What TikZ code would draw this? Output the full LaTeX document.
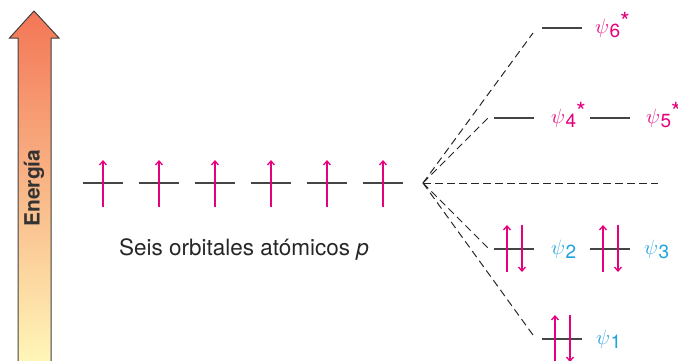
\documentclass[tikz,border=0pt]{standalone}
\usepackage{amsmath}
\usepackage{fontspec}
\setmainfont{TeX Gyre Heros}
\usetikzlibrary{arrows.meta, calc}
\definecolor{rosa}{HTML}{E5007D}
\definecolor{celeste}{HTML}{1FA3DD}
\definecolor{nivelgris}{HTML}{454545}
\definecolor{flechaalta}{RGB}{243,118,86}
\definecolor{flechabaja}{RGB}{255,246,184}
% etiqueta de orbital: psi, subindice y asterisco opcional
\newcommand{\orbital}[2]{{\fontsize{22}{22}\selectfont$\psi$}\kern0.5pt\raisebox{-4pt}{\fontsize{19}{19}\selectfont #1}\raisebox{3pt}{\fontsize{25}{25}\selectfont #2}}

\begin{document}
\begin{tikzpicture}[x=1pt, y=-1pt,
  every node/.style={font=\fontsize{22.5}{26}\selectfont},
  nivel/.style={draw=nivelgris, line width=1.3pt},
  guion/.style={draw=black!85, line width=1pt, dash pattern=on 7.5pt off 4.5pt},
  espin/.style={draw=rosa, line width=1.3pt, -{Straight Barb[length=4pt, width=7pt]}},
  etq/.style={anchor=base west, inner sep=0pt}]
\useasboundingbox (0,0) rectangle (678,360);

% flecha de energia
\shade[top color=flechaalta, bottom color=flechabaja]
  (18,361) -- (18,38) -- (9.5,38) -- (34,11) -- (59,38) -- (51,38) -- (51,361) -- cycle;
\draw[draw=black!75, line width=1pt]
  (18,361) -- (18,38) -- (9.5,38) -- (34,11) -- (59,38) -- (51,38) -- (51,361);
\node[rotate=90, font=\fontsize{21}{22}\selectfont\bfseries, text=black!80] (energia) at (34,188) {Energ\'ia};

% seis orbitales p
\foreach \x [count=\i] in {103,159,215,271,327,383} {
  \coordinate (p\i) at (\x,183);
  \draw[nivel] ($(p\i)+(-20,0)$) -- ($(p\i)+(20,0)$);
  \draw[espin] ($(p\i)+(0,24)$) -- ($(p\i)+(0,-23)$);
}
\node[anchor=base, text=black!85] (texto) at (244,255) {Seis orbitales at\'omicos \textit{p}};

% orbitales moleculares
\coordinate (centro) at (423,183);
\coordinate (a6) at (533,33);
\coordinate (a45) at (488,118);
\coordinate (a23) at (488,248);
\coordinate (a1) at (533,335);
\coordinate (fin) at (658,183);
\draw[guion] (centro) -- (a6);
\draw[guion] (centro) -- (a45);
\draw[guion] (centro) -- (fin);
\draw[guion] (centro) -- (a23);
\draw[guion] (centro) -- (a1);

\coordinate (n6) at (562,28);
\coordinate (n4) at (514,118);
\coordinate (n5) at (610,118);
\coordinate (n2) at (514,249);
\coordinate (n3) at (610,249);
\coordinate (n1) at (562,339);
\foreach \n in {n6,n4,n5,n2,n3,n1}
  \draw[nivel] ($(\n)+(-20,0)$) -- ($(\n)+(20,0)$);

% electrones apareados
\foreach \n in {n2,n3,n1} {
  \draw[espin] ($(\n)+(-7,23)$) -- ($(\n)+(-7,-24)$);
  \draw[espin] ($(\n)+(8,-24)$) -- ($(\n)+(8,23)$);
}

% etiquetas
\node[etq, text=rosa] (psi6) at (595,33) {\orbital{6}{*}};
\node[etq, text=rosa] (psi4) at (551,123) {\orbital{4}{*}};
\node[etq, text=rosa] (psi5) at (646,123) {\orbital{5}{*}};
\node[etq, text=celeste] (psi2) at (551,254) {\orbital{2}{}};
\node[etq, text=celeste] (psi3) at (644,254) {\orbital{3}{}};
\node[etq, text=celeste] (psi1) at (596,344) {\orbital{1}{}};
\end{tikzpicture}
\end{document}
